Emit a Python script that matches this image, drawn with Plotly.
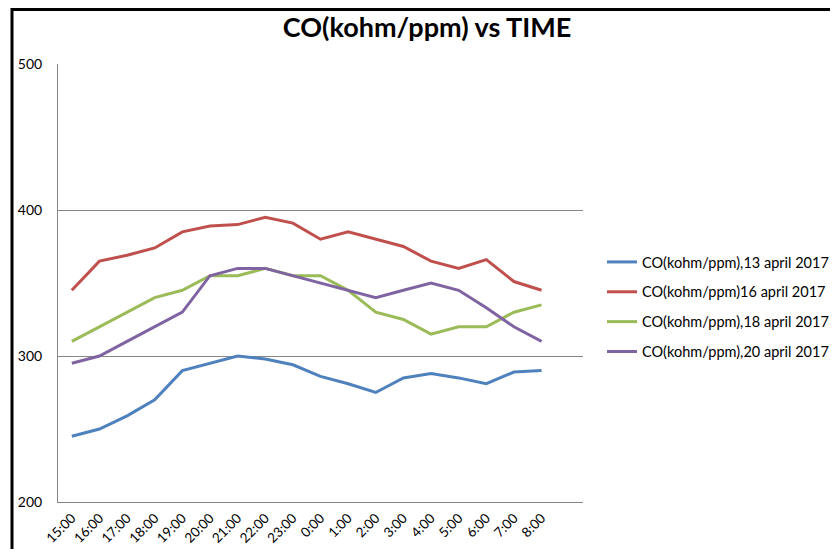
import plotly.graph_objects as go

times = ["15:00", "16:00", "17:00", "18:00", "19:00", "20:00", "21:00", "22:00", "23:00",
         "0:00", "1:00", "2:00", "3:00", "4:00", "5:00", "6:00", "7:00", "8:00"]

co_13_april = [245, 250, 259, 270, 290, 295, 300, 298, 294, 286, 281, 275, 285, 288, 285, 281, 289, 290]
co_16_april = [345, 365, 369, 374, 385, 389, 390, 395, 391, 380, 385, 380, 375, 365, 360, 366, 351, 345]
co_18_april = [310, 320, 330, 340, 345, 355, 355, 360, 355, 355, 345, 330, 325, 315, 320, 320, 330, 335]
co_20_april = [295, 300, 310, 320, 330, 355, 360, 360, 355, 350, 345, 340, 345, 350, 345, 333, 320, 310]

series_names = ["CO(kohm/ppm),13 april 2017", "CO(kohm/ppm)16 april 2017",
                "CO(kohm/ppm),18 april 2017", "CO(kohm/ppm),20 april 2017"]
series_values = [co_13_april, co_16_april, co_18_april, co_20_april]
colors = ["#4F81BD", "#C0504D", "#9BBB59", "#8064A2"]

FONT = "Lato, 'Open Sans', sans-serif"

fig = go.Figure()
for i, (name, vals, col) in enumerate(zip(series_names, series_values, colors)):
    fig.add_trace(go.Scatter(
        x=times, y=vals, name=name, mode="lines",
        line=dict(color=col, width=3),
        legendgroup=f"g{i}",
    ))

# page has an 8px body margin: work in figure coordinates = page - 8
OFF = 8
W, H = 838 - 2 * OFF, 557 - 2 * OFF
L, R, T, B = 58 - OFF, 583 - OFF, 64 - OFF, 502 - OFF
pw, ph = R - L, B - T

def px_x(p):
    return (p - L) / pw

def px_y(p):
    return (B - p) / ph

fig.update_layout(
    width=W, height=H,
    margin=dict(l=L, r=W - R, t=T, b=H - B, pad=0, autoexpand=False),
    paper_bgcolor="white", plot_bgcolor="white",
    font=dict(family=FONT, color="#000000", size=13),
    title=dict(text="<b>CO(kohm/ppm) vs TIME</b>", font=dict(family=FONT, size=27, color="#000"),
               x=(427 - OFF) / W, xref="container", xanchor="center",
               y=1 - (28 - OFF) / H, yref="container", yanchor="middle"),
    showlegend=True,
    legend=dict(x=px_x(602 - OFF), y=px_y(246 - OFF), xanchor="left", yanchor="top",
                font=dict(family=FONT, size=14.5), tracegroupgap=8,
                bgcolor="rgba(0,0,0,0)"),
    xaxis=dict(type="category", categoryorder="array", categoryarray=times,
               range=[-0.5, 18.5], tickangle=-45, showgrid=False,
               showline=True, linecolor="#868686", linewidth=1, automargin=False,
               ticks="", tickfont=dict(family=FONT, size=13.5), zeroline=False,
               ticklabelstandoff=2),
    yaxis=dict(range=[200, 500], tickvals=[200, 300, 400, 500], showgrid=True,
               gridcolor="#868686", gridwidth=1, showline=True, linecolor="#868686",
               linewidth=1, ticks="", tickfont=dict(family=FONT, size=14), automargin=False,
               ticklabelstandoff=12, zeroline=False),
    shapes=[dict(type="rect", xref="paper", yref="paper",
                 x0=px_x(12 - OFF), x1=px_x(W + 40), y0=px_y(H + 40), y1=px_y(1.5),
                 line=dict(color="#000000", width=3), fillcolor="rgba(0,0,0,0)",
                 layer="above")],
)

fig.write_html("out.html")
